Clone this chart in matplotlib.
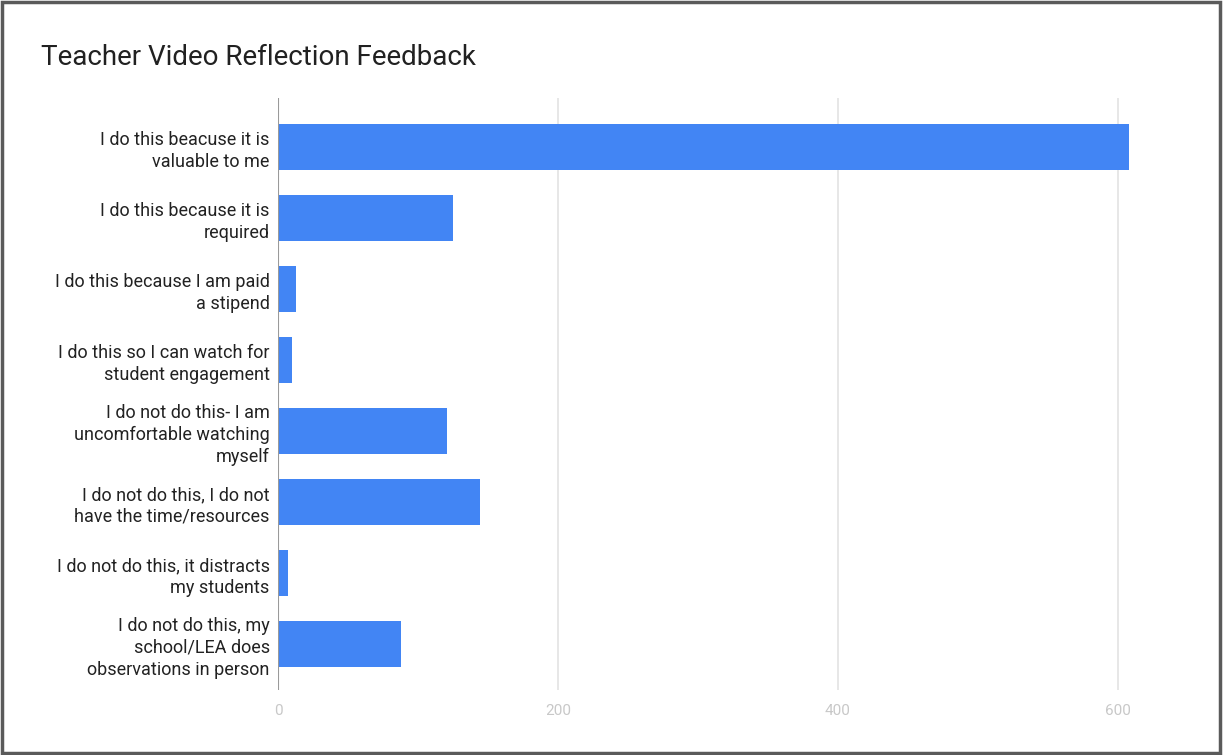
import matplotlib
matplotlib.use('Agg')
import matplotlib.pyplot as plt
from matplotlib.patches import Rectangle

plt.rcParams['font.family'] = ['Roboto', 'DejaVu Sans']

answers = ['I do this beacuse it is\nvaluable to me',
           'I do this because it is\nrequired',
           'I do this because I am paid\na stipend',
           'I do this so I can watch for\nstudent engagement',
           'I do not do this- I am\nuncomfortable watching\nmyself',
           'I do not do this, I do not\nhave the time/resources',
           'I do not do this, it distracts\nmy students',
           'I do not do this, my\nschool/LEA does\nobservations in person']
counts = [608, 125, 13, 10, 121, 144, 7, 88]
x_ticks = [0, 200, 400, 600]

bar_color = '#4285f4'

fig = plt.figure(figsize=(12.24, 7.55), dpi=100, facecolor='white')
ax = fig.add_axes([0.2271, 0.0861, 0.7149, 0.784])

ypos = list(range(len(answers)))
ax.barh(ypos, counts, height=0.64, color=bar_color, zorder=3)

ax.set_xlim(0, 625)
ax.set_ylim(7.65, -0.69)
ax.set_yticks(ypos)
ax.set_yticklabels(answers, fontsize=13, color='#222222', linespacing=1.28)
ax.set_xticks(x_ticks)
ax.set_xticklabels([str(t) for t in x_ticks], fontsize=11, color='#c8c8c8')
ax.tick_params(axis='y', length=0, pad=6)
ax.tick_params(axis='x', length=0, pad=10)

for t in x_ticks[1:]:
    ax.axvline(t, color='#e3e3e3', lw=1.2, zorder=1)
ax.axvline(0, color='#9a9a9a', lw=1.5, zorder=4)

for side in ['top', 'right', 'bottom', 'left']:
    ax.spines[side].set_visible(False)

fig.text(0.0335, 0.924, 'Teacher Video Reflection Feedback', fontsize=20,
         color='#212121', ha='left', va='center')

# outer frame around the whole chart
fig.patches.append(Rectangle((0.002, 0.002), 0.995, 0.995, transform=fig.transFigure,
                             fill=False, edgecolor='#5a5a5a', lw=2.5))

fig.savefig('out.png', dpi=100, facecolor='white')
